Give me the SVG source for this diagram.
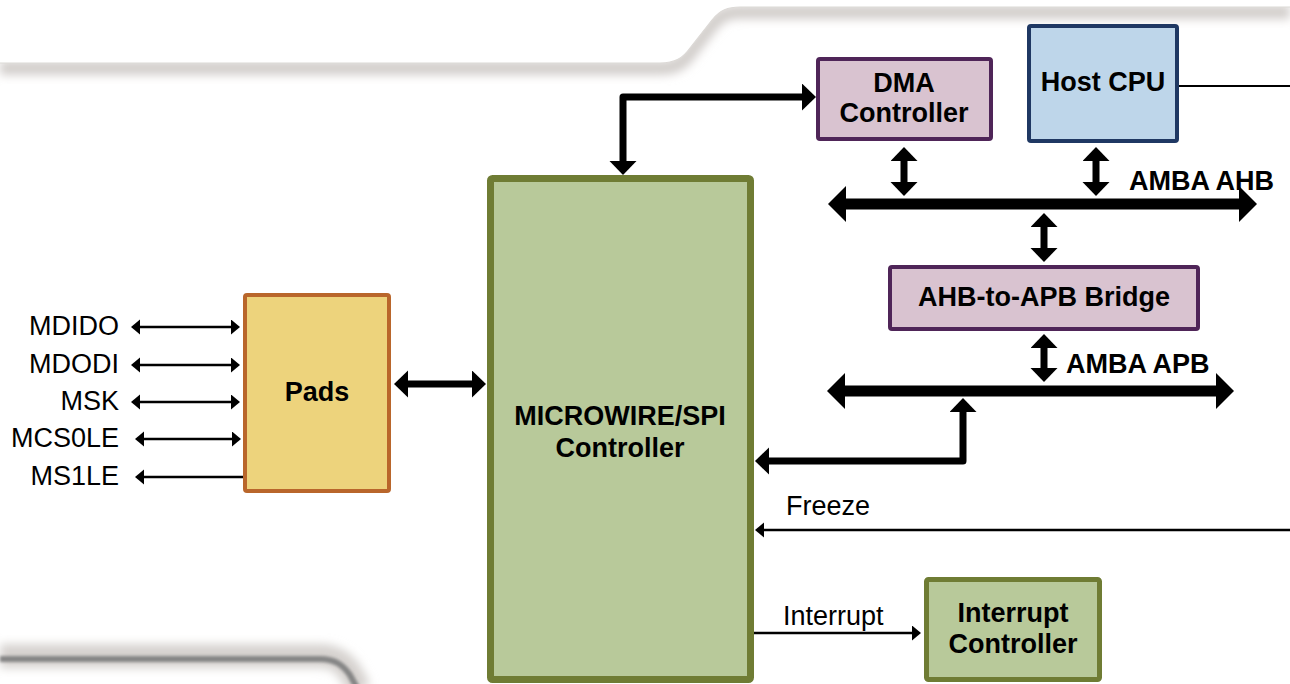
<svg xmlns="http://www.w3.org/2000/svg" width="1290" height="684" viewBox="0 0 1290 684">
<style>
  .lbl { font-family: "Liberation Sans", Arial, sans-serif; font-size: 27px; fill: #000; }
  .b { font-weight: bold; }
  .green rect { fill: #B8C99A; stroke: #6F7C34; }
  .purple rect { fill: #D9C3D0; stroke: #4F2558; stroke-width: 4; }
  .thick { fill: none; stroke: #000; stroke-width: 7; stroke-linejoin: round; }
  .bus { fill: none; stroke: #000; stroke-width: 11; }
  .thin { fill: none; stroke: #000; stroke-width: 2.6; }
</style>
<defs>
  <marker id="hThick" markerUnits="userSpaceOnUse" markerWidth="15" markerHeight="28" refX="1" refY="13.5" orient="auto-start-reverse" viewBox="0 0 15 28">
    <path d="M0,0 L14,13.5 L0,27 Z" fill="#000"/>
  </marker>
  <marker id="hBus" markerUnits="userSpaceOnUse" markerWidth="20" markerHeight="38" refX="1" refY="18" orient="auto-start-reverse" viewBox="0 0 20 38">
    <path d="M0,0 L18,18 L0,36 Z" fill="#000"/>
  </marker>
  <marker id="hThin" markerUnits="userSpaceOnUse" markerWidth="11" markerHeight="16" refX="1" refY="7.5" orient="auto-start-reverse" viewBox="0 0 11 16">
    <path d="M0,0 L9,7.5 L0,15 Z" fill="#000"/>
  </marker>
  <filter id="blur6" x="-10%" y="-200%" width="120%" height="500%"><feGaussianBlur stdDeviation="5"/></filter>
  <filter id="blur2" x="-10%" y="-200%" width="120%" height="500%"><feGaussianBlur stdDeviation="1.5"/></filter>
</defs>

<rect x="0" y="0" width="1290" height="684" fill="#ffffff"/>

<!-- background swooshes -->
<g id="background">
  <path d="M0,68 L660,68 C675,68 683,63 690,53 L712,25 C720,15 728,12 740,12 L1290,12" fill="none" stroke="#d2cecb" stroke-width="14" filter="url(#blur6)"/>
  <path d="M0,0 L0,63 L660,63 C675,63 683,58 690,48 L712,20 C720,10 728,7 740,7 L1290,7 L1290,0 Z" fill="#ffffff"/>
  <path d="M0,63 L660,63 C675,63 683,58 690,48 L712,20 C720,10 728,7 740,7 L1290,7" fill="none" stroke="#dcd9d6" stroke-width="1.2"/>
  <path d="M0,656 L320,656 C335,656 343,662 350,672 L360,690" fill="none" stroke="#d6d2cf" stroke-width="24" filter="url(#blur6)"/>
  <path d="M0,659 L320,659 C335,659 343,665 350,675 L357,688" fill="none" stroke="#858585" stroke-width="6" filter="url(#blur2)"/>
</g>

<!-- connectors -->
<g id="connectors">
  <line class="thin" x1="139" y1="327" x2="232" y2="327" marker-start="url(#hThin)" marker-end="url(#hThin)"/>
  <line class="thin" x1="139" y1="365" x2="232" y2="365" marker-start="url(#hThin)" marker-end="url(#hThin)"/>
  <line class="thin" x1="139" y1="402" x2="232" y2="402" marker-start="url(#hThin)" marker-end="url(#hThin)"/>
  <line class="thin" x1="143" y1="439" x2="233" y2="439" marker-start="url(#hThin)" marker-end="url(#hThin)"/>
  <line class="thin" x1="245" y1="477" x2="143" y2="477" marker-end="url(#hThin)"/>
  <line class="thick" x1="407" y1="384" x2="473" y2="384" marker-start="url(#hThick)" marker-end="url(#hThick)"/>
  <polyline class="thick" points="803,97 623,97 623,162" marker-start="url(#hThick)" marker-end="url(#hThick)"/>
  <polyline class="thick" points="963,411 963,461 768,461" marker-start="url(#hThick)" marker-end="url(#hThick)"/>
  <line class="bus" x1="845" y1="204" x2="1240" y2="204" marker-start="url(#hBus)" marker-end="url(#hBus)"/>
  <line class="bus" x1="844" y1="391" x2="1217" y2="391" marker-start="url(#hBus)" marker-end="url(#hBus)"/>
  <line class="thick" x1="904" y1="160" x2="904" y2="183" marker-start="url(#hThick)" marker-end="url(#hThick)"/>
  <line class="thick" x1="1096" y1="160" x2="1096" y2="183" marker-start="url(#hThick)" marker-end="url(#hThick)"/>
  <line class="thick" x1="1044" y1="226" x2="1044" y2="249" marker-start="url(#hThick)" marker-end="url(#hThick)"/>
  <line class="thick" x1="1044" y1="347" x2="1044" y2="369" marker-start="url(#hThick)" marker-end="url(#hThick)"/>
  <line x1="1179" y1="86" x2="1290" y2="86" stroke="#000" stroke-width="2"/>
  <line class="thin" x1="1290" y1="530" x2="763" y2="530" marker-end="url(#hThin)"/>
  <line class="thin" x1="754" y1="633" x2="913" y2="633" marker-end="url(#hThin)"/>
</g>

<!-- labels -->
<g id="signal-labels" class="lbl" text-anchor="end">
  <text x="119" y="335">MDIDO</text>
  <text x="119" y="373">MDODI</text>
  <text x="119" y="410">MSK</text>
  <text x="119" y="447">MCS0LE</text>
  <text x="119" y="485">MS1LE</text>
</g>
<text class="lbl" x="786" y="515">Freeze</text>
<text class="lbl" x="783" y="625">Interrupt</text>
<text class="lbl b" x="1129" y="190">AMBA AHB</text>
<text class="lbl b" x="1066" y="373">AMBA APB</text>

<!-- nodes -->
<g id="pads">
  <rect x="245" y="295" width="144" height="196" rx="2" fill="#EDD37C" stroke="#B9662B" stroke-width="4"/>
  <text class="lbl b" x="317" y="401" text-anchor="middle">Pads</text>
</g>
<g id="microwire" class="green">
  <rect x="490.5" y="178.5" width="260" height="501" rx="2" stroke-width="7"/>
  <text class="lbl b" x="620" y="425" text-anchor="middle">MICROWIRE/SPI</text>
  <text class="lbl b" x="620" y="457" text-anchor="middle">Controller</text>
</g>
<g id="dma" class="purple">
  <rect x="818" y="59" width="173" height="80" rx="2"/>
  <text class="lbl b" x="904" y="92" text-anchor="middle">DMA</text>
  <text class="lbl b" x="904" y="122" text-anchor="middle">Controller</text>
</g>
<g id="hostcpu">
  <rect x="1029" y="26" width="148" height="115" rx="2" fill="#BED6EA" stroke="#1F3863" stroke-width="4"/>
  <text class="lbl b" x="1103" y="91" text-anchor="middle">Host CPU</text>
</g>
<g id="bridge" class="purple">
  <rect x="890" y="267" width="308" height="62" rx="2"/>
  <text class="lbl b" x="1044" y="306" text-anchor="middle">AHB-to-APB Bridge</text>
</g>
<g id="intctrl" class="green">
  <rect x="926.5" y="579.5" width="173" height="100" rx="2" stroke-width="5"/>
  <text class="lbl b" x="1013" y="622" text-anchor="middle">Interrupt</text>
  <text class="lbl b" x="1013" y="653" text-anchor="middle">Controller</text>
</g>
</svg>
